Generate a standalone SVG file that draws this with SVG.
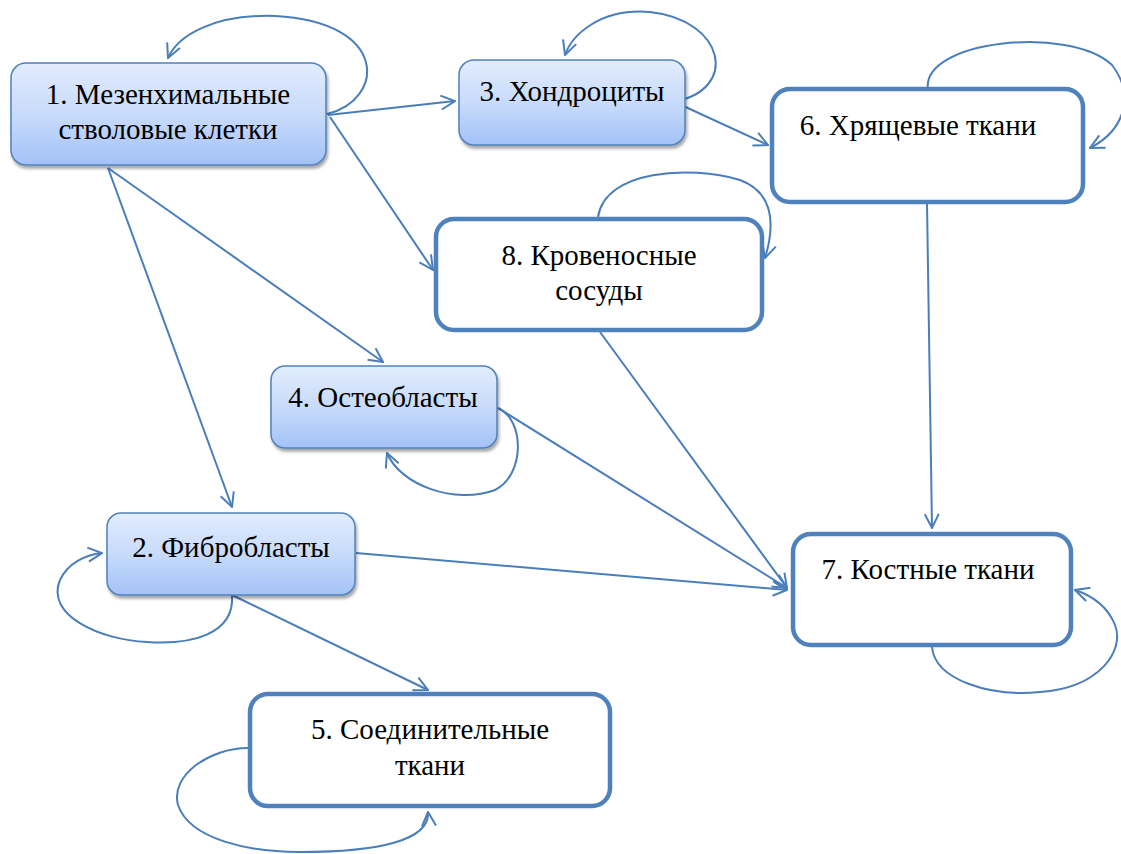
<svg xmlns="http://www.w3.org/2000/svg" width="1121" height="854" viewBox="0 0 1121 854">
<defs>
<linearGradient id="g" x1="0" y1="0" x2="0" y2="1">
<stop offset="0" stop-color="#e2ecfd"/>
<stop offset="0.5" stop-color="#c8dbfb"/>
<stop offset="1" stop-color="#a3c2f7"/>
</linearGradient>
<filter id="sh" x="-10%" y="-10%" width="120%" height="130%">
<feDropShadow dx="1.5" dy="3" stdDeviation="1.5" flood-color="#000" flood-opacity="0.35"/>
</filter>
<marker id="a" viewBox="0 0 16 16" refX="15" refY="8" markerWidth="16" markerHeight="16" markerUnits="userSpaceOnUse" orient="auto">
<path d="M1,1 L15,8 L1,15" fill="none" stroke="#4a7ebb" stroke-width="2"/>
</marker>
<style>
.c{fill:none;stroke:#4a7ebb;stroke-width:2;marker-end:url(#a)}
.gn{fill:url(#g);stroke:#4f81bd;stroke-width:1.5;filter:url(#sh)}
.wn{fill:#fff;stroke:#4f81bd;stroke-width:4.5}
.t{font-family:'Liberation Serif','Times New Roman',serif;font-size:29px;fill:#000;text-anchor:middle}
</style>
</defs>
<g id="connectors">
<path class="c" d="M327,114 C385,100 390,22 275,16 C215,14 178,35 168,58"/>
<path class="c" d="M328,115 L455,101"/>
<path class="c" d="M330,117 L433,270"/>
<path class="c" d="M108,168 L383,362"/>
<path class="c" d="M108,168 L232,507"/>
<path class="c" d="M673,102 C740,90 725,20 650,12 C600,8 572,35 565,55"/>
<path class="c" d="M679,104 L768,145"/>
<path class="c" d="M928,90 C920,40 1070,25 1112,65 C1135,95 1125,130 1090,148"/>
<path class="c" d="M927,203 L932,528"/>
<path class="c" d="M598,217 C605,170 690,165 740,180 C780,195 772,235 765,258"/>
<path class="c" d="M600,332 L787,588"/>
<path class="c" d="M498,408 C525,420 525,475 495,490 C455,505 400,485 387,453"/>
<path class="c" d="M498,408 L787,588"/>
<path class="c" d="M356,553 L787,590"/>
<path class="c" d="M232,595 C235,635 190,645 147,642 C100,640 45,615 60,580 C68,563 85,555 102,553"/>
<path class="c" d="M232,595 L428,690"/>
<path class="c" d="M248,748 C210,748 170,775 178,805 C190,840 250,852 300,852 C380,852 430,840 428,812"/>
<path class="c" d="M932,647 C935,680 990,697 1040,692 C1100,688 1125,650 1115,625 C1107,605 1090,595 1075,590"/>
</g>
<g id="n1"><rect class="gn" x="11" y="63" width="315" height="102" rx="15"/><text class="t" x="168" y="104">1. Мезенхимальные</text><text class="t" x="168" y="139">стволовые клетки</text></g>
<g id="n3"><rect class="gn" x="459" y="60" width="226" height="85" rx="15"/><text class="t" x="572" y="101">3. Хондроциты</text></g>
<g id="n6"><rect class="wn" x="772" y="89" width="311" height="113" rx="18"/><text class="t" x="918" y="135">6. Хрящевые ткани</text></g>
<g id="n8"><rect class="wn" x="436" y="219" width="326" height="111" rx="18"/><text class="t" x="599" y="265">8. Кровеносные</text><text class="t" x="599" y="300">сосуды</text></g>
<g id="n4"><rect class="gn" x="271" y="366" width="226" height="82" rx="14"/><text class="t" x="383" y="407">4. Остеобласты</text></g>
<g id="n2"><rect class="gn" x="107" y="513" width="248" height="82" rx="14"/><text class="t" x="231" y="557">2. Фибробласты</text></g>
<g id="n5"><rect class="wn" x="250" y="694" width="360" height="112" rx="18"/><text class="t" x="430" y="739">5. Соединительные</text><text class="t" x="430" y="775">ткани</text></g>
<g id="n7"><rect class="wn" x="793" y="534" width="278" height="111" rx="18"/><text class="t" x="928" y="579">7. Костные ткани</text></g>
</svg>
